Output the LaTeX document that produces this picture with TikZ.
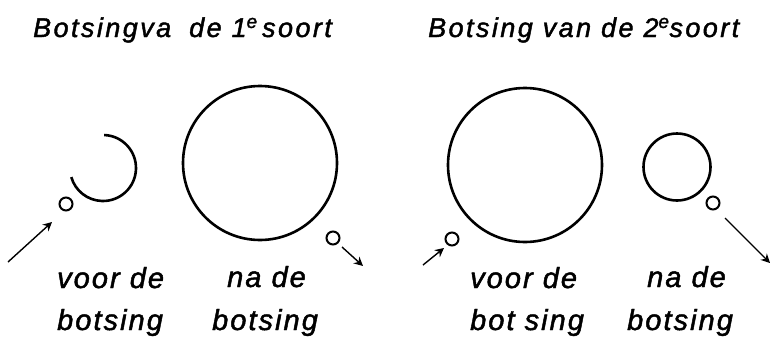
\documentclass[tikz,border=0pt]{standalone}
\usepackage{fontspec}
\newfontfamily\titlefont[LetterSpace=9,RawFeature={embolden=1.6}]{Liberation Sans}
\newfontfamily\letterfont[LetterSpace=7,RawFeature={embolden=1.6}]{Liberation Sans}
\usetikzlibrary{arrows.meta}
\tikzset{
    every node/.append style={inner sep=0pt},
    ring/.style={circle,draw=black,line width=2.6pt,minimum size=#1},
    ball/.style={circle,draw=black,line width=2pt,minimum size=13pt},
    arr/.style={-{Stealth[length=9pt,width=9pt,inset=3pt]},line width=1.4pt},
    ttl/.style={anchor=base west,font=\titlefont\itshape\fontsize{27}{30}\selectfont},
    lbl/.style={anchor=base west,font=\letterfont\itshape\fontsize{29}{32}\selectfont}
}

\begin{document}
\begin{tikzpicture}[x=1pt,y=-1pt]
    \useasboundingbox (0,0) rectangle (772,341);

    \node[ttl] (title1) at (33,37)  {Botsingva\hspace{18pt}de 1\textsuperscript{e}\,soort};
    \node[ttl] (title2) at (428,37) {Botsing van de 2\textsuperscript{e}soort};

    % eerste soort
    \coordinate (cup) at (103,168);
    \draw[line width=2.6pt] ([shift={(-88:33)}]cup) arc[start angle=-88,end angle=164,radius=33];
    \node[ball]        (s1)   at (66,204)  {};
    \node[ring=154pt]  (big1) at (260,163) {};
    \node[ball]        (s2)   at (333,238) {};

    % tweede soort
    \node[ring=154pt]  (big2) at (525,165) {};
    \node[ball]        (s3)   at (452,239) {};
    \node[ring=67pt]   (mid)  at (677,167) {};
    \node[ball]        (s4)   at (713,203) {};

    \coordinate (a1) at (8,262);    \coordinate (b1) at (52,222);
    \coordinate (a2) at (342,247);  \coordinate (b2) at (363,266);
    \coordinate (a3) at (423,265);  \coordinate (b3) at (444,248);
    \coordinate (a4) at (725,218);  \coordinate (b4) at (770,263);
    \foreach \i in {1,2,3,4} { \draw[arr] (a\i) -- (b\i); }

    \node[lbl] (voor1) at (57,288)  {voor de};
    \node[lbl] (bots1) at (57,330)  {botsing};
    \node[lbl] (na1)   at (227,287) {na de};
    \node[lbl] (bots2) at (212,330) {botsing};
    \node[lbl] (voor2) at (470,288) {voor de};
    \node[lbl] (bots3) at (470,330) {bot sing};
    \node[lbl] (na2)   at (647,287) {na de};
    \node[lbl] (bots4) at (627,330) {botsing};
\end{tikzpicture}
\end{document}
